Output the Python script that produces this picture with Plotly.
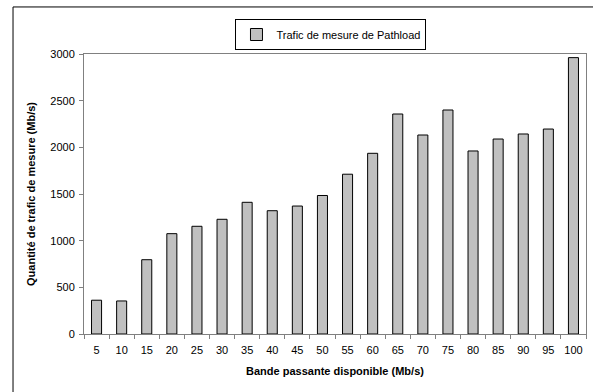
import plotly.graph_objects as go

# Available bandwidth (Mb/s) and Pathload measurement traffic (Mb/s)
bande = ["5", "10", "15", "20", "25", "30", "35", "40", "45", "50",
         "55", "60", "65", "70", "75", "80", "85", "90", "95", "100"]
trafic = [362, 354, 796, 1075, 1154, 1229, 1411, 1321, 1371, 1484,
          1712, 1936, 2357, 2132, 2400, 1961, 2089, 2143, 2196, 2961]
y_ticks = [0, 500, 1000, 1500, 2000, 2500, 3000]

FONT = "Liberation Sans, Arial, sans-serif"

fig = go.Figure()
fig.add_trace(go.Bar(
    x=bande, y=trafic,
    name="Trafic de mesure de Pathload",
    marker=dict(color="#c0c0c0", line=dict(color="#000000", width=1)),
))

fig.update_layout(
    width=593, height=392,
    margin=dict(l=84, r=7, t=54, b=58),
    paper_bgcolor="white", plot_bgcolor="white",
    font=dict(family=FONT, size=11, color="black"),
    bargap=0.6,
    showlegend=True,
    legend=dict(
        x=0.492, xanchor="center", xref="paper",
        y=1.125, yanchor="top",
        orientation="h",
        bordercolor="black", borderwidth=1,
        bgcolor="white",
        font=dict(family=FONT, size=11),
        itemwidth=30,
        tracegroupgap=0,
    ),
    shapes=[dict(
        type="rect", xref="paper", yref="paper",
        x0=-0.1414, x1=1.03, y0=-0.25, y1=1.168,
        line=dict(color="#000000", width=1), fillcolor="rgba(0,0,0,0)",
        layer="below",
    )],
)

fig.update_xaxes(
    type="category",
    showline=True, linecolor="#808080", linewidth=1, mirror=True,
    ticks="outside", ticklen=4, tickcolor="#808080", tickson="boundaries",
    tickangle=0, ticklabelstandoff=6,
    showgrid=False,
    tickfont=dict(family=FONT, size=11),
    title=dict(text="<b>Bande passante disponible (Mb/s)</b>",
               font=dict(family=FONT, size=11), standoff=12),
)
fig.update_yaxes(
    range=[0, 3000], tickvals=y_ticks,
    showline=True, linecolor="#808080", linewidth=1, mirror=True,
    ticks="outside", ticklen=4, tickcolor="#808080", ticklabelstandoff=2,
    showgrid=False, zeroline=False,
    tickfont=dict(family=FONT, size=11),
    title=dict(text="<b>Quantité de trafic de mesure (Mb/s)</b>",
               font=dict(family=FONT, size=11), standoff=12),
)

fig.write_html("out.html")
